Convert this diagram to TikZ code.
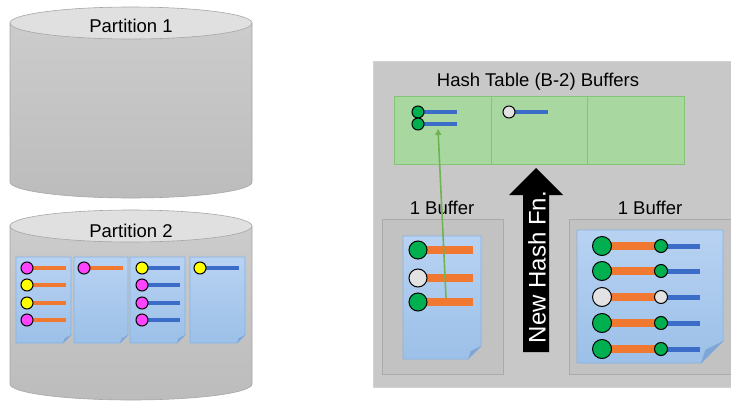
\documentclass[tikz,border=0pt]{standalone}
\usepackage{fontspec}
\setmainfont{Liberation Sans}
\usetikzlibrary{arrows.meta}

\definecolor{cylside}{HTML}{C6C6C6}
\definecolor{cyltop}{HTML}{E0E0E0}
\definecolor{cyledge}{HTML}{A6A6A6}
\definecolor{pagetop}{HTML}{B8D2F2}
\definecolor{pagebot}{HTML}{9CC0E8}
\definecolor{pageedge}{HTML}{86B2E2}
\definecolor{pagefold}{HTML}{7EA6D6}
\definecolor{recgreen}{HTML}{00B050}
\definecolor{recmag}{HTML}{FF44FF}
\definecolor{recyel}{HTML}{FFFF00}
\definecolor{recgray}{HTML}{E2E2E2}
\definecolor{barorange}{HTML}{F07830}
\definecolor{barblue}{HTML}{3A6CC8}
\definecolor{panel}{HTML}{C8C8C8}
\definecolor{tablefill}{HTML}{A8D8A0}
\definecolor{tableedge}{HTML}{84C474}
\definecolor{arrowgreen}{HTML}{70B450}

\tikzset{
  label text/.style={font=\fontsize{18.5}{21}\selectfont, inner sep=0pt},
  arrow text/.style={font=\fontsize{24}{26}\selectfont, inner sep=0pt, text=white, rotate=90},
  dot/.style={draw=black, line width=1pt},
  obar/.style={draw=barorange, line cap=butt},
  bbar/.style={draw=barblue, line cap=butt},
}

% a page with a folded lower right corner: x1,y1,x2,y2,fold
\newcommand\docpage[5]{%
  \shade[top color=pagetop, bottom color=pagebot, draw=pageedge, line width=0.8pt]
    (#1,#2) -- (#3,#2) -- (#3,{#4-#5}) -- ({#3-#5},#4) -- (#1,#4) -- cycle;
  \fill[pagefold] (#3,{#4-#5}) -- ({#3-#5},#4) -- ({#3-0.8*#5},{#4-0.6*#5}) -- cycle;
}
% a record: x, y, circle colour, bar end, bar colour style, radius, bar width
\newcommand\rec[7]{%
  \draw[#5, line width=#7] (#1,#2) -- (#4,#2);
  \fill[#3, dot] (#1,#2) circle (#6);
}
% a cylinder: centre x, top y, bottom y, x radius, y radius
\newcommand\cyl[5]{%
  \shade[top color=cylside!90!white, bottom color=cylside!95!black, draw=cyledge, line width=0.6pt]
    ({#1-#4},#2) -- ({#1-#4},#3) arc[start angle=180, end angle=0, x radius=#4, y radius=#5]
    -- ({#1+#4},#2) -- cycle;
  \fill[cyltop, draw=cyledge, line width=0.6pt] (#1,#2) ellipse[x radius=#4, y radius=#5];
}

\begin{document}
\begin{tikzpicture}[x=1pt, y=-1pt]
\useasboundingbox (0,0) rectangle (731,402);

% ---------- partitions on disk ----------
\cyl{131}{23}{182}{121}{16}
\node[label text] (part1) at (131,26) {Partition 1};

\cyl{131}{226}{384}{121}{16}
\node[label text] (part2) at (131,231) {Partition 2};

\docpage{16}{257}{71}{343}{8}
\docpage{74}{257}{128}{343}{8}
\docpage{130}{257}{185}{343}{8}
\docpage{190}{257}{245}{343}{8}

\rec{27}{268}{recmag}{66}{obar}{6}{4.5pt}
\rec{27}{285}{recyel}{66}{obar}{6}{4.5pt}
\rec{27}{303}{recyel}{66}{obar}{6}{4.5pt}
\rec{27}{320}{recmag}{66}{obar}{6}{4.5pt}

\rec{84}{268}{recmag}{123}{obar}{6}{4.5pt}

\rec{142}{268}{recyel}{180}{bbar}{6}{4.5pt}
\rec{142}{285}{recmag}{180}{bbar}{6}{4.5pt}
\rec{142}{303}{recmag}{180}{bbar}{6}{4.5pt}
\rec{142}{320}{recmag}{180}{bbar}{6}{4.5pt}

\rec{200}{268}{recyel}{239}{bbar}{6}{4.5pt}

% ---------- memory ----------
\fill[panel, draw=panel!80!white, line width=1pt] (373,61) rectangle (733,387);

\node[label text] (httitle) at (538,82) {Hash Table (B-2) Buffers};
\fill[tablefill, draw=tableedge, line width=0.8pt] (394,96) rectangle (684,164);
\draw[tableedge, line width=0.8pt] (491,96) -- (491,164) (587,96) -- (587,164);

\rec{418}{112}{recgreen}{457}{bbar}{6}{4pt}
\rec{418}{124}{recgreen}{457}{bbar}{6}{4pt}
\rec{509}{112}{recgray}{548}{bbar}{6}{4pt}

% input buffer
\fill[panel!97!black, draw=panel!85!black, line width=0.6pt] (382,219) rectangle (503,374);
\node[label text] (inlabel) at (442,208) {1 Buffer};
\docpage{403}{236}{481}{359}{13}
\rec{418}{250}{recgreen}{473}{obar}{9}{8pt}
\rec{418}{278}{recgray}{473}{obar}{9}{8pt}
\rec{418}{302}{recgreen}{473}{obar}{9}{8pt}

% output buffer
\fill[panel!97!black, draw=panel!85!black, line width=0.6pt] (569,219) rectangle (733,374);
\node[label text] (outlabel) at (650,208) {1 Buffer};
\docpage{577}{230}{723}{363}{22}
\foreach \yy/\cc in {246/recgreen, 271/recgreen, 297/recgray, 323/recgreen, 349/recgreen}{
  \draw[barblue, line width=5pt] (661,\yy) -- (700,\yy);
  \draw[barorange, line width=8pt] (602,\yy) -- (661,\yy);
  \fill[\cc, dot] (661,\yy) circle (6.5);
  \fill[\cc, dot] (602,\yy) circle (9.5);
}

% rehash arrow
\fill[black] (523,352) -- (523,195) -- (509,195) -- (536,168) -- (563,195)
  -- (549,195) -- (549,352) -- cycle;
\node[arrow text] (newhash) at (537,267) {New Hash Fn.};

% record moved into the table
\coordinate (src) at (446,298);
\coordinate (dst) at (438,129);
\draw[arrowgreen, line width=1.6pt, -{Triangle[length=6pt, width=6pt]}] (src) -- (dst);

\end{tikzpicture}
\end{document}
